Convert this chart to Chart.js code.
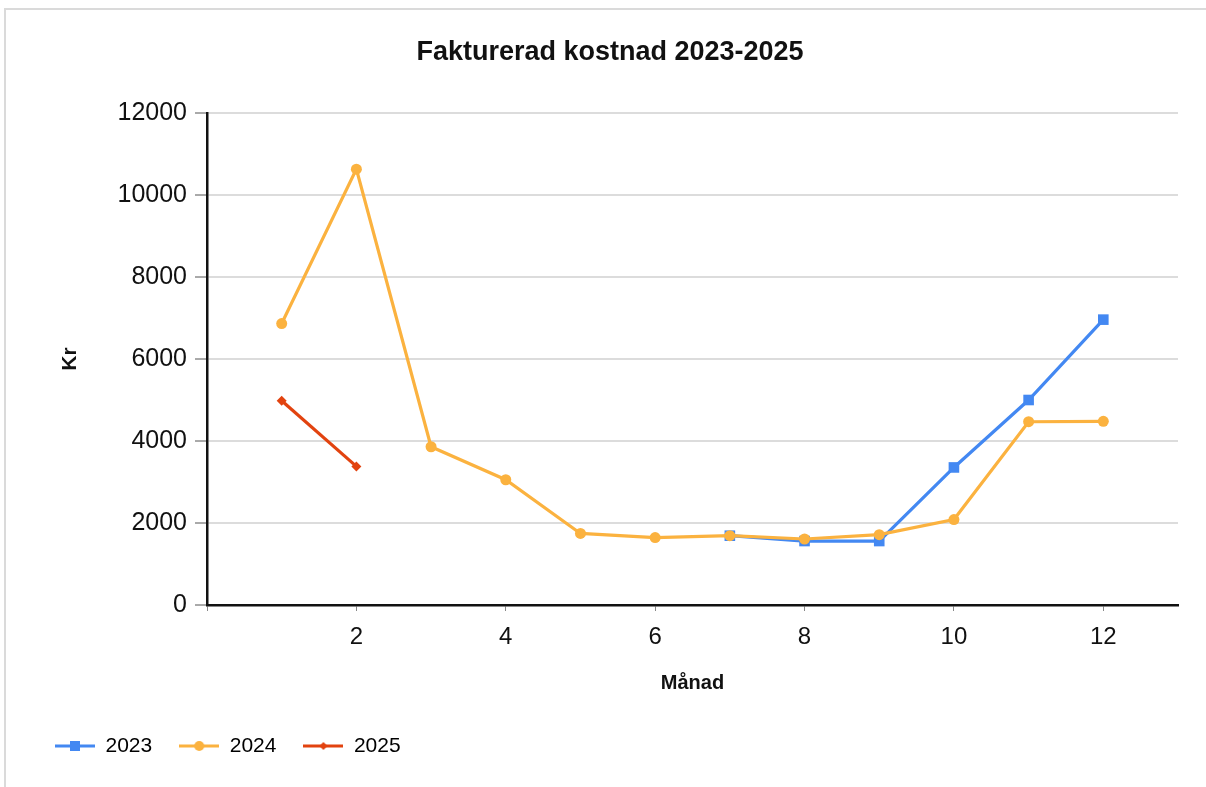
<!DOCTYPE html>
<html>
<head>
<meta charset="utf-8">
<script src="https://cdn.jsdelivr.net/npm/chart.js@4.4.1/dist/chart.umd.min.js"></script>
<style>
  html, body { margin: 0; padding: 0; background: #fff; overflow: hidden; }
  #wrap { position: relative; width: 1206px; height: 787px; }
  #frame { position: absolute; left: 4px; top: 8px; width: 1400px; height: 900px;
           border-top: 2px solid #dadada; border-left: 2px solid #dadada; }
  canvas { position: absolute; left: 0; top: 0; }
</style>
</head>
<body>
<div id="wrap">
  <div id="frame"></div>
  <canvas id="c" width="1206" height="787"></canvas>
</div>
<script>
const chartTitle = 'Fakturerad kostnad 2023-2025';
const xTitle = 'Månad';
const yTitle = 'Kr';
const seriesNames = ['2023', '2024', '2025'];
const months2023 = [7, 8, 9, 10, 11, 12];
const values2023 = [1690, 1560, 1560, 3355, 5000, 6960];
const months2024 = [1, 2, 3, 4, 5, 6, 7, 8, 9, 10, 11, 12];
const values2024 = [6865, 10630, 3860, 3055, 1745, 1645, 1690, 1610, 1715, 2085, 4470, 4480];
const months2025 = [1, 2];
const values2025 = [4980, 3380];
const xTickValues = [2, 4, 6, 8, 10, 12];

const FONT = "'Liberation Sans', Arial, sans-serif";
const colors = ['#4388f2', '#fbb23f', '#e2430f'];
const styles = ['rect', 'circle', 'rectRot'];
const radii = [7.5, 5.5, 5];

function legendIcon(color, style) {
  const cv = document.createElement('canvas');
  cv.width = 40; cv.height = 14;
  const g = cv.getContext('2d');
  g.strokeStyle = color; g.fillStyle = color; g.lineWidth = 3;
  g.beginPath(); g.moveTo(0, 7); g.lineTo(40, 7); g.stroke();
  g.beginPath();
  if (style === 'rect') { g.fillRect(15, 2, 10, 10); }
  else if (style === 'circle') { g.arc(20, 7, 5, 0, Math.PI * 2); g.fill(); }
  else { g.moveTo(20, 3); g.lineTo(24, 7); g.lineTo(20, 11); g.lineTo(16, 7); g.closePath(); g.fill(); }
  return cv;
}
const icons = colors.map((c, i) => legendIcon(c, styles[i]));

function pts(xs, ys) { return xs.map((x, i) => ({ x: x, y: ys[i] })); }
const allMonths = [months2023, months2024, months2025];
const allValues = [values2023, values2024, values2025];
const orders = [2, 1, 0];

const datasets = seriesNames.map((name, i) => ({
  label: name,
  data: pts(allMonths[i], allValues[i]),
  borderColor: colors[i],
  backgroundColor: colors[i],
  pointBackgroundColor: colors[i],
  pointBorderColor: colors[i],
  pointStyle: styles[i],
  pointRadius: radii[i],
  pointBorderWidth: 0,
  borderWidth: 3.2,
  tension: 0,
  order: orders[i]
}));

new Chart(document.getElementById('c'), {
  type: 'line',
  data: { datasets: datasets },
  options: {
    responsive: false,
    animation: false,
    events: [],
    layout: { padding: { left: 28, right: 14, top: 0, bottom: 20.5 } },
    plugins: {
      title: {
        display: true, text: chartTitle, color: '#111',
        font: { family: FONT, size: 27, weight: 'bold' },
        padding: { top: 36, bottom: 44.6 }
      },
      legend: {
        display: true, position: 'bottom', align: 'start',
        labels: {
          color: '#111',
          font: { family: FONT, size: 21 },
          usePointStyle: true,
          pointStyleWidth: 40,
          padding: 27,
          sort: (a, b) => a.datasetIndex - b.datasetIndex,
          generateLabels: (chart) => chart.data.datasets.map((ds, i) => ({
            text: ds.label, datasetIndex: i, pointStyle: icons[i],
            fillStyle: colors[i], strokeStyle: colors[i], lineWidth: 0, hidden: false
          }))
        }
      },
      tooltip: { enabled: false }
    },
    scales: {
      x: {
        type: 'linear', min: 0, max: 13,
        afterFit: (s) => { s.height = 103.5; },
        afterBuildTicks: (s) => { s.ticks = [0].concat(xTickValues).map(v => ({ value: v })); },
        ticks: {
          autoSkip: false, maxRotation: 0, color: '#111', padding: 12,
          font: { family: FONT, size: 24 },
          callback: (v) => (v === 0 ? '' : String(v))
        },
        grid: { drawOnChartArea: false, drawTicks: true, tickLength: 6, tickColor: '#888', tickWidth: 1 },
        border: { display: true, color: '#111', width: 2.5 },
        title: {
          display: true, text: xTitle, color: '#111',
          font: { family: FONT, size: 20, weight: 'bold' },
          padding: { top: 0, bottom: 13.5 }
        }
      },
      y: {
        type: 'linear', min: 0, max: 12000,
        afterFit: (s) => { s.width = 179; },
        ticks: {
          stepSize: 2000, color: '#111', padding: 8,
          font: { family: FONT, size: 25 },
          callback: (v) => String(v)
        },
        grid: { color: '#dcdcdc', lineWidth: 2, tickLength: 12, tickColor: '#555', tickWidth: 1 },
        border: { display: true, color: '#111', width: 2.5 },
        title: {
          display: true, text: yTitle, color: '#111',
          font: { family: FONT, size: 21, weight: 'bold' },
          padding: { top: 29.4, bottom: 0 }
        }
      },
      yRight: {
        type: 'linear', position: 'right', min: 0, max: 12000, display: true,
        afterFit: (s) => { s.width = 14; },
        ticks: { display: false },
        grid: { display: false, drawTicks: false },
        border: { display: false }
      }
    }
  }
});
</script>
</body>
</html>
